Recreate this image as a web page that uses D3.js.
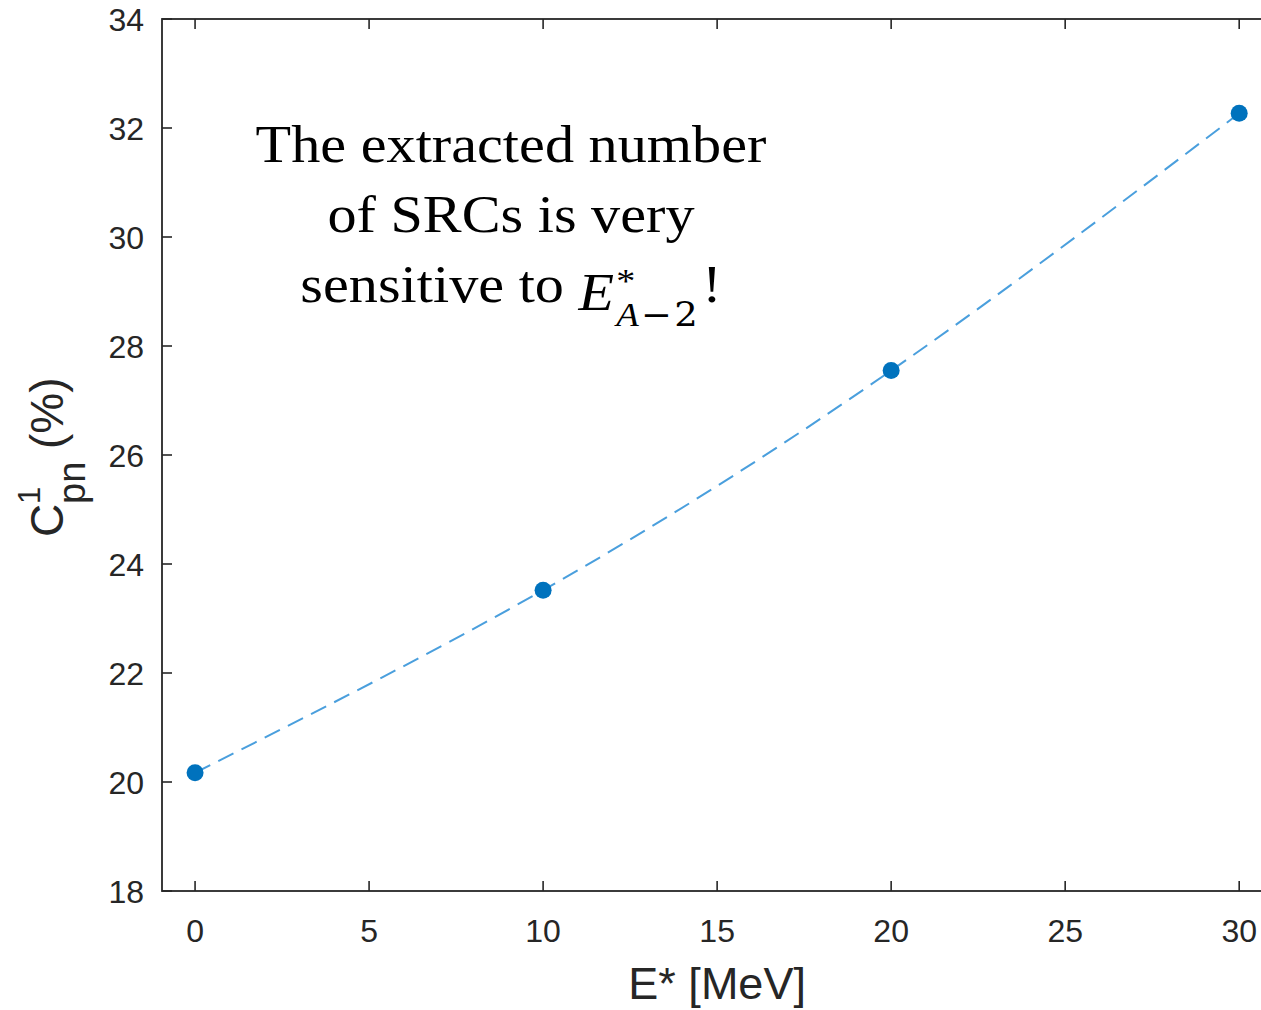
<!DOCTYPE html>
<html>
<head>
<meta charset="utf-8">
<script src="https://cdn.jsdelivr.net/npm/d3@7"></script>
<style>
    body { margin: 0; background: #fff; }
    svg { display: block; }
    .tick-label { font-family: "Liberation Sans", Arial, sans-serif; font-size: 32px; fill: #262626; }
    .axis-label { font-family: "Liberation Sans", Arial, sans-serif; fill: #262626; }
    .note { font-family: "Liberation Serif", "Times New Roman", serif; font-size: 52px; fill: #000; }
</style>
</head>
<body>
<script>
/**
 * Data.
 */
const energies = [0, 10, 20, 30];            // E* [MeV]
const cpnValues = [20.17, 23.52, 27.55, 32.27]; // C^1_pn (%)
const xTicks = [0, 5, 10, 15, 20, 25, 30];
const yTicks = [18, 20, 22, 24, 26, 28, 30, 32, 34];
const noteLines = ['The extracted number', 'of SRCs is very'];

/**
 * Visual configs.
 */
const visWidth = 1261, visHeight = 1010;
const frame = { left: 162, right: 1274, top: 19, bottom: 891 };
const tickLen = 10,
    axisColor = '#262626',
    markerColor = '#0072BD',
    lineColor = '#4A9FDD';

const xScale = d3.scaleLinear().domain([-0.95, 31]).range([frame.left, frame.right]),
    yScale = d3.scaleLinear().domain([18, 34]).range([frame.bottom, frame.top]);

const svg = d3.select('body').append('svg')
    .attr('width', visWidth)
    .attr('height', visHeight);

// Ticks inward on all sides (matlab box style)
const ticks = svg.append('g').attr('class', 'ticks')
    .attr('stroke', axisColor).attr('stroke-width', 1.6);
xTicks.forEach(t => {
    const x = xScale(t);
    ticks.append('line').attr('x1', x).attr('x2', x).attr('y1', frame.bottom).attr('y2', frame.bottom - tickLen);
    ticks.append('line').attr('x1', x).attr('x2', x).attr('y1', frame.top).attr('y2', frame.top + tickLen);
});
yTicks.forEach(t => {
    const y = yScale(t);
    ticks.append('line').attr('x1', frame.left).attr('x2', frame.left + tickLen).attr('y1', y).attr('y2', y);
    ticks.append('line').attr('x1', frame.right).attr('x2', frame.right - tickLen).attr('y1', y).attr('y2', y);
});

// Box
svg.append('rect')
    .attr('x', frame.left).attr('y', frame.top)
    .attr('width', frame.right - frame.left).attr('height', frame.bottom - frame.top)
    .attr('fill', 'none').attr('stroke', axisColor).attr('stroke-width', 1.8);

// Tick labels
svg.append('g').selectAll('text').data(xTicks).enter().append('text')
    .attr('class', 'tick-label')
    .attr('x', d => xScale(d))
    .attr('y', 942)
    .attr('text-anchor', 'middle')
    .text(d => d);
svg.append('g').selectAll('text').data(yTicks).enter().append('text')
    .attr('class', 'tick-label')
    .attr('x', 144)
    .attr('y', d => yScale(d) + 12)
    .attr('text-anchor', 'end')
    .text(d => d);

// x label
svg.append('text')
    .attr('class', 'axis-label')
    .attr('x', xScale(15))
    .attr('y', 999)
    .attr('text-anchor', 'middle')
    .attr('font-size', 45)
    .text('E* [MeV]');

// y label: C^1_pn (%), rotated
const yLabel = svg.append('g').attr('class', 'axis-label')
    .attr('transform', 'translate(63,537) rotate(-90)');
yLabel.append('text').attr('x', 0).attr('y', 0).attr('font-size', 46).text('C');
yLabel.append('text').attr('x', 33).attr('y', -23).attr('font-size', 31).text('1');
yLabel.append('text').attr('x', 33).attr('y', 22).attr('font-size', 38).text('pn');
yLabel.append('text').attr('x', 88).attr('y', 0).attr('font-size', 46).text('(%)');

// Dashed curve through the points
const line = d3.line()
    .x((d, i) => xScale(energies[i]))
    .y(d => yScale(d))
    .curve(d3.curveNatural);
svg.append('path')
    .datum(cpnValues)
    .attr('d', line)
    .attr('fill', 'none')
    .attr('stroke', lineColor)
    .attr('stroke-width', 2)
    .attr('stroke-dasharray', '17,9');

// Markers
svg.append('g').selectAll('circle').data(cpnValues).enter().append('circle')
    .attr('cx', (d, i) => xScale(energies[i]))
    .attr('cy', d => yScale(d))
    .attr('r', 8.5)
    .attr('fill', markerColor);

// Annotation (slightly widened serif, as in the slide)
const note = svg.append('g').attr('transform', 'translate(511,0) scale(1.12,1)');
noteLines.forEach((s, i) => {
    note.append('text').attr('class', 'note')
        .attr('x', 0).attr('y', 162 + i * 70)
        .attr('text-anchor', 'middle')
        .text(s);
});
const last = note.append('text').attr('class', 'note')
    .attr('x', 0).attr('y', 302)
    .attr('text-anchor', 'middle');
last.append('tspan').text('sensitive to ');
last.append('tspan').attr('font-style', 'italic').attr('dy', 8).text('E');
last.append('tspan').attr('font-size', 34).attr('dy', -18).attr('dx', 2).text('*');
last.append('tspan').attr('font-size', 33).attr('font-style', 'italic').attr('dy', 34).attr('dx', -17).text('A');
last.append('tspan').attr('font-size', 33).attr('font-family', '"DejaVu Serif", serif').attr('dx', 2).text('\u2212');
last.append('tspan').attr('font-size', 33).attr('font-family', '"DejaVu Serif", serif').attr('dx', 2).text('2');
last.append('tspan').attr('dy', -24).attr('dx', 4).text('!');
</script>
</body>
</html>
